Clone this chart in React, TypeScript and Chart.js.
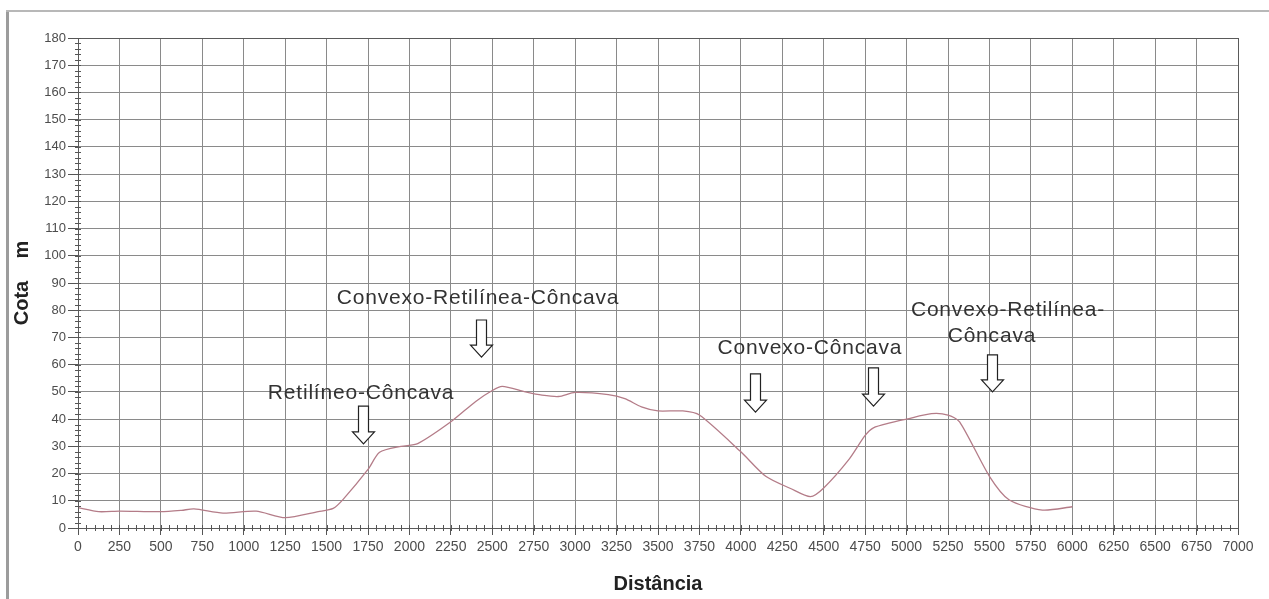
import React, { useEffect, useRef } from "react";
import { Chart, registerables } from "chart.js";

Chart.register(...registerables);

// Profile data (Distância in m, Cota in m)
const distances = [0, 125, 250, 500, 625, 700, 875, 1075, 1250, 1450, 1540, 1600, 1750, 1820, 1950, 2050, 2250, 2400, 2500, 2560, 2700, 2800, 2900, 3000, 3200, 3300, 3400, 3500, 3650, 3750, 4000, 4150, 4300, 4420, 4500, 4650, 4750, 4800, 4900, 5000, 5150, 5250, 5320, 5500, 5620, 5820, 6000];
const elevations = [7.5, 6, 6.2, 6, 6.5, 7, 5.5, 6.2, 3.8, 6, 7.2, 10.5, 21.5, 27.8, 30, 31, 39, 46.5, 50.5, 52, 50, 48.8, 48.3, 49.8, 49, 47.5, 44.5, 43, 43, 41.5, 28, 19, 14.5, 11.5, 14.7, 25, 34, 36.8, 38.6, 40, 42, 41.5, 39, 19, 10.3, 6.6, 7.8];

// Axis ranges
const xMin = 0;
const xMax = 7000;
const xStep = 250;
const xMinorStep = 50;
const yMin = 0;
const yMax = 180;
const yStep = 10;
const yMinorStep = 2;

const xTitle = "Distância";
const yTitle = "Cota    m";

// Annotation labels (text anchored at data coordinates)
const labelTexts = ["Convexo-Retilínea-Côncava", "Retilíneo-Côncava", "Convexo-Côncava", "Convexo-Retilínea-", "Côncava"];
const labelX = [2414, 1708, 4417, 5612, 5515];
const labelY = [84.5, 49.6, 66.1, 80.1, 70.5];

// Arrows (x, top value, tip value)
const arrowX = [2432, 1720, 4085, 4797, 5515];
const arrowTop = [76.4, 44.8, 56.6, 58.8, 63.6];
const arrowTip = [62.8, 30.9, 42.6, 44.8, 50];

const decorPlugin = {
  id: "decor",
  beforeDraw(chart: any) {
    const ctx = chart.ctx;
    ctx.save();
    ctx.fillStyle = "#ffffff";
    ctx.fillRect(0, 0, chart.width, chart.height);
    ctx.fillStyle = "#9c9c9c";
    ctx.fillRect(6, 10, 3, chart.height - 10);
    ctx.fillStyle = "#b8b8b8";
    ctx.fillRect(6, 10, chart.width - 6, 2);
    ctx.restore();
  },
  afterDraw(chart: any) {
    const ctx = chart.ctx;
    const xs = chart.scales.x;
    const ys = chart.scales.y;
    const area = chart.chartArea;
    ctx.save();
    // plot border
    ctx.strokeStyle = "#5a5a5a";
    ctx.lineWidth = 1;
    ctx.strokeRect(Math.round(area.left) + 0.5, Math.round(area.top) + 0.5, Math.round(area.right - area.left), Math.round(area.bottom - area.top));
    // minor ticks
    ctx.strokeStyle = "#555";
    ctx.beginPath();
    for (let v = xMin; v <= xMax; v += xMinorStep) {
      const px = Math.round(xs.getPixelForValue(v)) + 0.5;
      ctx.moveTo(px, area.bottom - 3);
      ctx.lineTo(px, area.bottom + 3);
    }
    for (let v = yMin; v <= yMax; v += yMinorStep) {
      const py = Math.round(ys.getPixelForValue(v)) + 0.5;
      ctx.moveTo(area.left - 3, py);
      ctx.lineTo(area.left + 3, py);
    }
    ctx.stroke();

    // annotation texts
    ctx.fillStyle = "#333333";
    ctx.font = '21px "Liberation Sans", Arial, sans-serif';
    try { (ctx as any).letterSpacing = "0.8px"; } catch (e) {}
    ctx.textAlign = "center";
    ctx.textBaseline = "middle";
    labelTexts.forEach((t, i) => {
      ctx.fillText(t, xs.getPixelForValue(labelX[i]), ys.getPixelForValue(labelY[i]));
    });
    try { (ctx as any).letterSpacing = "0px"; } catch (e) {}

    // arrows
    ctx.strokeStyle = "#222";
    ctx.fillStyle = "#ffffff";
    ctx.lineWidth = 1.2;
    arrowX.forEach((xv, i) => {
      const cx = Math.round(xs.getPixelForValue(xv)) + 0.5;
      const top = ys.getPixelForValue(arrowTop[i]);
      const tip = ys.getPixelForValue(arrowTip[i]);
      const headH = 12;
      const sw = 5;
      const hw = 11;
      ctx.beginPath();
      ctx.moveTo(cx - sw, top);
      ctx.lineTo(cx + sw, top);
      ctx.lineTo(cx + sw, tip - headH);
      ctx.lineTo(cx + hw, tip - headH);
      ctx.lineTo(cx, tip);
      ctx.lineTo(cx - hw, tip - headH);
      ctx.lineTo(cx - sw, tip - headH);
      ctx.closePath();
      ctx.fill();
      ctx.stroke();
    });
    ctx.restore();
  },
};

export default function App() {
  const canvasRef = useRef<HTMLCanvasElement | null>(null);

  useEffect(() => {
    const canvas = canvasRef.current;
    if (!canvas) return;
    const points = distances.map((d, i) => ({ x: d, y: elevations[i] }));
    const chart = new Chart(canvas, {
      type: "line",
      data: {
        datasets: [
          {
            data: points,
            borderColor: "#b47c88",
            borderWidth: 1.3,
            pointRadius: 0,
            tension: 0.25,
            fill: false,
          },
        ],
      },
      options: {
        animation: false,
        responsive: false,
        devicePixelRatio: 1,
        layout: { padding: { top: 38, right: 31, bottom: 0, left: 0 } },
        plugins: { legend: { display: false }, tooltip: { enabled: false } },
        scales: {
          x: {
            type: "linear",
            min: xMin,
            max: xMax,
            afterFit(scale: any) {
              scale.height = 71;
            },
            ticks: {
              stepSize: xStep,
              autoSkip: false,
              maxRotation: 0,
              minRotation: 0,
              padding: 4,
              color: "#4d4d4d",
              font: { family: '"Liberation Sans", Arial, sans-serif', size: 14 },
              callback: (v: any) => String(v),
            },
            grid: { color: "#8a8a8a", lineWidth: 1, tickLength: 7, tickColor: "#555" },
            border: { display: false },
            title: {
              display: true,
              text: xTitle,
              color: "#222",
              font: { family: '"Liberation Sans", Arial, sans-serif', size: 20, weight: "bold" },
              padding: { top: 0, bottom: 3 },
            },
          },
          y: {
            type: "linear",
            min: yMin,
            max: yMax,
            afterFit(scale: any) {
              scale.width = 78;
            },
            ticks: {
              stepSize: yStep,
              padding: 2,
              color: "#4d4d4d",
              font: { family: '"Liberation Sans", Arial, sans-serif', size: 13 },
              callback: (v: any) => String(v),
            },
            grid: { color: "#8a8a8a", lineWidth: 1, tickLength: 10, tickColor: "#555" },
            border: { display: false },
            title: {
              display: true,
              text: yTitle,
              color: "#222",
              font: { family: '"Liberation Sans", Arial, sans-serif', size: 20, weight: "bold" },
              padding: { top: 10, bottom: 0 },
            },
          },
        },
      },
      plugins: [decorPlugin],
    });
    return () => chart.destroy();
  }, []);

  return (
    <div style={{ position: "fixed", left: 0, top: 0, width: 1269, height: 599 }}>
      <canvas ref={canvasRef} width={1269} height={599} style={{ width: 1269, height: 599, display: "block" }} />
    </div>
  );
}
